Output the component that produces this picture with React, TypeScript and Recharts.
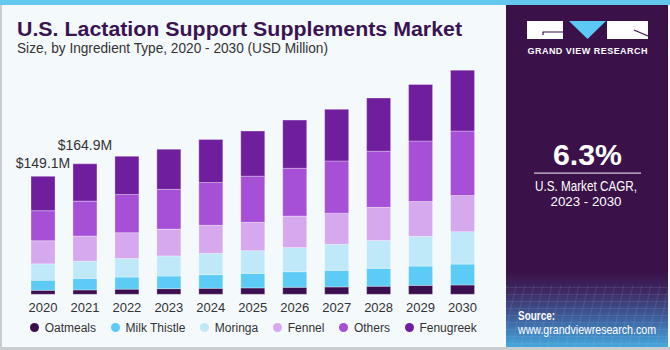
import React from 'react';
import { BarChart, Bar, XAxis, YAxis, Legend, LabelList } from 'recharts';

const years = ['2020', '2021', '2022', '2023', '2024', '2025', '2026', '2027', '2028', '2029', '2030'];
const oatmeals = [5.1, 5.5, 6.5, 7.1, 7.6, 8.1, 8.9, 9.3, 10.2, 11.3, 11.8];
const milkThistle = [12.7, 14.6, 15.3, 16.0, 17.2, 18.4, 19.6, 21.0, 22.6, 24.4, 26.4];
const moringa = [20.7, 21.8, 23.5, 25.4, 26.9, 28.6, 30.6, 33.0, 35.2, 37.6, 41.0];
const fennel = [29.2, 31.8, 32.6, 33.9, 35.5, 35.9, 39.8, 39.3, 41.9, 43.9, 45.7];
const others = [38.0, 44.1, 48.3, 50.3, 54.1, 58.3, 60.4, 66.0, 71.0, 76.6, 81.5];
const fenugreek = [43.5, 47.1, 48.3, 50.7, 54.5, 57.1, 60.9, 65.2, 67.2, 71.4, 77.0];
const valueLabels = ['$149.1M', '$164.9M', '', '', '', '', '', '', '', '', ''];
const labelLift = [8, 14, 0, 0, 0, 0, 0, 0, 0, 0, 0];

const seriesDefs = [
  { key: 'Oatmeals', values: oatmeals, color: '#3b0f4f' },
  { key: 'Milk Thistle', values: milkThistle, color: '#5ccbf5' },
  { key: 'Moringa', values: moringa, color: '#bfe9f9' },
  { key: 'Fennel', values: fennel, color: '#d6a9ee' },
  { key: 'Others', values: others, color: '#a64fd7' },
  { key: 'Fenugreek', values: fenugreek, color: '#6f1f9d' },
];
const seriesOrder = seriesDefs.map((s) => s.key);

const data = years.map((y, i) => {
  const row: Record<string, any> = { year: y, label: valueLabels[i] };
  seriesDefs.forEach((s) => {
    row[s.key] = s.values[i];
  });
  return row;
});

const sans = '"Liberation Sans", Arial, Helvetica, sans-serif';

const TopLabel = (props: any) => {
  const { x, y, width, index } = props;
  const text = valueLabels[index];
  if (!text) return null;
  return (
    <text
      x={x + width / 2}
      y={y - labelLift[index]}
      textAnchor="middle"
      fontSize={14}
      fontFamily={sans}
      fill="#333333"
    >
      {text}
    </text>
  );
};

const LegendContent = (props: any) => {
  const payload = [...(props.payload || [])].sort(
    (a: any, b: any) => seriesOrder.indexOf(a.value) - seriesOrder.indexOf(b.value)
  );
  return (
    <div
      style={{
        display: 'flex',
        justifyContent: 'center',
        alignItems: 'center',
        height: 19,
        whiteSpace: 'nowrap',
        fontFamily: sans,
        fontSize: 12,
        color: '#333333',
      }}
    >
      {payload.map((p: any, i: number) => (
        <div
          key={p.value}
          style={{ display: 'flex', alignItems: 'center', marginLeft: i === 0 ? 0 : 15 }}
        >
          <span
            style={{
              display: 'inline-block',
              width: 9,
              height: 9,
              borderRadius: '50%',
              background: p.color,
              marginRight: 5.5,
            }}
          />
          <span>{p.value}</span>
        </div>
      ))}
    </div>
  );
};

const Background = () => (
  <svg width={670} height={350} style={{ position: 'absolute', left: 0, top: 0 }}>
    <defs>
      <linearGradient id="panelGrad" x1="0" y1="0" x2="0" y2="1">
        <stop offset="0" stopColor="#3a1149" />
        <stop offset="0.78" stopColor="#3a1149" />
        <stop offset="0.84" stopColor="#3e2a62" />
        <stop offset="0.92" stopColor="#3f62a0" />
        <stop offset="1" stopColor="#45a7dc" />
      </linearGradient>
      <pattern id="mesh" width="9" height="7" patternUnits="userSpaceOnUse" patternTransform="skewX(-12)">
        <path d="M0 0 H9 M0 0 V7" stroke="#9fc8f0" strokeOpacity="0.35" strokeWidth="0.7" fill="none" />
      </pattern>
    </defs>
    <rect x={0} y={0} width={670} height={350} fill="#f4f9fc" />
    <rect x={0} y={0} width={2} height={350} fill="#c9cdd1" />
    <rect x={0} y={347} width={670} height={3} fill="#c9cdd1" />
    <rect x={0} y={0} width={670} height={5} fill="#63c7ee" />
    <rect x={506} y={5} width={162} height={342} fill="url(#panelGrad)" />
    <rect x={506} y={285} width={162} height={62} fill="url(#mesh)" />

    <rect x={527} y={21} width={36} height={18} fill="#ffffff" />
    <path d="M543 35 V32 H563" stroke="#3a1149" strokeWidth={1.2} fill="none" />
    <polygon points="569,21 606,21 587.5,39" fill="#5cc8f5" />
    <rect x={607} y={21} width={41} height={18} fill="#ffffff" />
    <path d="M634 30 L648 36" stroke="#3a1149" strokeWidth={1.2} fill="none" />
    <text
      x={587.5}
      y={53.5}
      textAnchor="middle"
      fontFamily={sans}
      fontWeight="bold"
      fontSize={9}
      fill="#ffffff"
      textLength={120}
      lengthAdjust="spacing"
    >
      GRAND VIEW RESEARCH
    </text>

    <text
      x={17}
      y={35.5}
      fontFamily={sans}
      fontWeight="bold"
      fontSize={20}
      fill="#3a1452"
      textLength={445}
      lengthAdjust="spacingAndGlyphs"
    >
      U.S. Lactation Support Supplements Market
    </text>
    <text
      x={17}
      y={52.5}
      fontFamily={sans}
      fontSize={14}
      fill="#333333"
      textLength={311}
      lengthAdjust="spacingAndGlyphs"
    >
      Size, by Ingredient Type, 2020 - 2030 (USD Million)
    </text>

    <text
      x={587.5}
      y={165}
      textAnchor="middle"
      fontFamily={sans}
      fontWeight="bold"
      fontSize={29}
      fill="#ffffff"
      textLength={69}
      lengthAdjust="spacingAndGlyphs"
    >
      6.3%
    </text>
    <rect x={534} y={172.5} width={107} height={1.2} fill="#d8cde0" />
    <text
      x={586}
      y={191}
      textAnchor="middle"
      fontFamily={sans}
      fontSize={14}
      fill="#ffffff"
      textLength={102}
      lengthAdjust="spacingAndGlyphs"
    >
      U.S. Market CAGR,
    </text>
    <text
      x={586}
      y={205.5}
      textAnchor="middle"
      fontFamily={sans}
      fontSize={13.5}
      fill="#ffffff"
      textLength={71}
      lengthAdjust="spacingAndGlyphs"
    >
      2023 - 2030
    </text>

    <text
      x={518}
      y={320}
      fontFamily={sans}
      fontWeight="bold"
      fontSize={13.5}
      fill="#ffffff"
      textLength={37}
      lengthAdjust="spacingAndGlyphs"
    >
      Source:
    </text>
    <text
      x={518}
      y={333.5}
      fontFamily={sans}
      fontSize={13}
      fill="#ffffff"
      textLength={138}
      lengthAdjust="spacingAndGlyphs"
    >
      www.grandviewresearch.com
    </text>
  </svg>
);

export default function App() {
  return (
    <div style={{ position: 'relative', width: 670, height: 350, fontFamily: sans }}>
      <style>{`body{margin:0;}`}</style>
      <Background />
      <div style={{ position: 'absolute', left: 0, top: 0 }}>
        <BarChart
          width={670}
          height={350}
          data={data}
          margin={{ top: 57, right: 186.5, bottom: 16.7, left: 22 }}
          barSize={24}
        >
          <XAxis
            dataKey="year"
            axisLine={false}
            tickLine={false}
            height={20}
            interval={0}
            tick={{ fontSize: 13, fill: '#333333', fontFamily: sans }}
          />
          <YAxis hide domain={[0, 300]} />
          <Legend
            verticalAlign="bottom"
            content={<LegendContent />}
            wrapperStyle={{ position: 'absolute', left: 0, top: 318, bottom: 'auto', width: 507, height: 19 }}
          />
          {seriesDefs.map((s, idx) => (
            <Bar
              key={s.key}
              dataKey={s.key}
              name={s.key}
              stackId="a"
              fill={s.color}
              stroke="#ffffff"
              strokeOpacity={0.3}
              strokeWidth={1}
              isAnimationActive={false}
            >
              {idx === seriesDefs.length - 1 ? (
                <LabelList dataKey="label" content={<TopLabel />} />
              ) : null}
            </Bar>
          ))}
        </BarChart>
      </div>
    </div>
  );
}
